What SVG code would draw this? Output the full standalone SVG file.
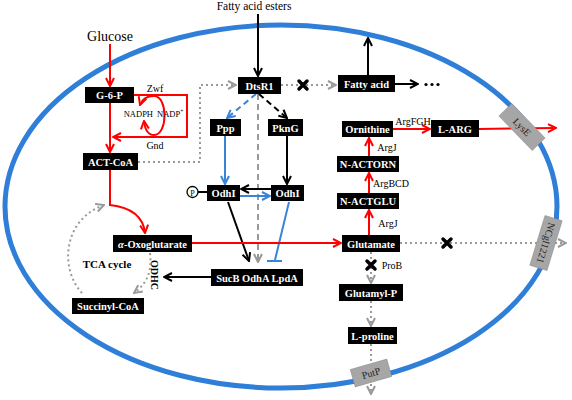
<svg xmlns="http://www.w3.org/2000/svg" width="572" height="400" viewBox="0 0 572 400">
<defs>
<style>
.box{fill:#000}
.bt{font-family:"Liberation Serif","Times New Roman",serif;font-weight:bold;font-size:10.5px;fill:#fff;text-anchor:middle}
.lbl{font-family:"Liberation Serif","Times New Roman",serif;font-size:10px;fill:#000;text-anchor:middle}
.red{stroke:#f00;stroke-width:2;fill:none}
.blk{stroke:#000;stroke-width:2;fill:none}
.blu{stroke:#3a84d8;stroke-width:2;fill:none}
.dot{stroke:#999;stroke-width:2;fill:none;stroke-dasharray:2 3}
.dash{stroke:#999;stroke-width:2;fill:none;stroke-dasharray:6 4}
.x{stroke:#000;stroke-width:3.5;stroke-linecap:round}
.tr{fill:#a6a6a6;stroke:#888;stroke-width:0.5}
.trt{font-family:"Liberation Serif","Times New Roman",serif;font-size:10px;fill:#222;text-anchor:middle}
</style>
<marker id="ar" viewBox="0 0 10 10" refX="9" refY="5" markerWidth="10" markerHeight="10" markerUnits="userSpaceOnUse" orient="auto"><path d="M1,1 L9,5 L1,9" fill="none" stroke="#f00" stroke-width="2"/></marker>
<marker id="ak" viewBox="0 0 10 10" refX="9" refY="5" markerWidth="10" markerHeight="10" markerUnits="userSpaceOnUse" orient="auto"><path d="M1,1 L9,5 L1,9" fill="none" stroke="#000" stroke-width="2"/></marker>
<marker id="ab" viewBox="0 0 10 10" refX="9" refY="5" markerWidth="10" markerHeight="10" markerUnits="userSpaceOnUse" orient="auto"><path d="M1,1 L9,5 L1,9" fill="none" stroke="#3a84d8" stroke-width="2"/></marker>
<marker id="ag" viewBox="0 0 10 10" refX="9" refY="5" markerWidth="10" markerHeight="10" markerUnits="userSpaceOnUse" orient="auto"><path d="M1,1 L9,5 L1,9" fill="none" stroke="#999" stroke-width="2"/></marker>
</defs>
<rect width="572" height="400" fill="#fff"/>
<ellipse id="cell" cx="281" cy="206.5" rx="276" ry="181.5" fill="none" stroke="#2f7ed8" stroke-width="5"/>

<g id="connectors">
<path class="blk" d="M258,14 L258,76" marker-end="url(#ak)"/>
<path class="red" d="M110,44 L110,86" marker-end="url(#ar)"/>
<path class="red" d="M110,103 L110,152" marker-end="url(#ar)"/>
<path class="red" d="M134,95 L187,95 L187,137 L113,137" marker-end="url(#ar)"/>
<path class="red" d="M154,96 C147,96 142,99 140,105" marker-end="url(#ar)"/>
<path class="red" d="M154,96 C168,96 168,135 154,135 C148,135 145,130 144,121" marker-end="url(#ar)"/>
<path class="red" d="M110,170 L110,205 C128,207 143,215 145,233" marker-end="url(#ar)"/>
<path class="dot" d="M138,162 L200,162 L200,85 L236,85" marker-end="url(#ag)"/>
<path class="dot" d="M82,293 C60,270 62,220 104,205" marker-end="url(#ag)"/>
<path class="dot" d="M150,253 C152,270 148,283 134,293" marker-end="url(#ag)"/>
<path class="blk" d="M211,277 L164,277" marker-end="url(#ak)"/>
<path class="dash" d="M258,94 L258,262" marker-end="url(#ag)"/>
<path class="blu" d="M256,94 L227,118" stroke-dasharray="6 4" marker-end="url(#ab)"/>
<path class="blk" d="M259,94 L287,118" stroke-dasharray="6 4" marker-end="url(#ak)"/>
<path class="blu" d="M225,136 L225,184" marker-end="url(#ab)"/>
<path class="blk" d="M287,136 L287,184" marker-end="url(#ak)"/>
<path class="blk" d="M271,189 L241,189" marker-end="url(#ak)"/>
<path class="blu" d="M240,196 L270,196" marker-end="url(#ab)"/>
<path class="blk" d="M198,192 L207,192"/>
<path class="blk" d="M228,202 L249,261" marker-end="url(#ak)"/>
<path class="blu" d="M289,202 L275,260"/>
<path class="blu" d="M267,261 L282,261"/>
<path class="red" d="M192,243 L341,243" marker-end="url(#ar)"/>
<path class="dot" d="M281,85 L336,85" marker-end="url(#ag)"/>
<path class="blk" d="M368,75 L368,38" marker-end="url(#ak)"/>
<path class="blk" d="M395,84 L418,84" marker-end="url(#ak)"/>
<path class="red" d="M369,235 L369,210" marker-end="url(#ar)"/>
<path class="red" d="M369,193 L369,173" marker-end="url(#ar)"/>
<path class="red" d="M369,156 L369,138" marker-end="url(#ar)"/>
<path class="red" d="M393,129 L430,129" marker-end="url(#ar)"/>
<path class="red" d="M479,129 L556,128" marker-end="url(#ar)"/>
<path class="dot" d="M400,243 L566,243" marker-end="url(#ag)"/>
<path class="dot" d="M371,252 L371,283" marker-end="url(#ag)"/>
<path class="dot" d="M371,301 L371,326" marker-end="url(#ag)"/>
<path class="dot" d="M371,344 L371,394" marker-end="url(#ag)"/>
</g>

<g id="marks">
<path class="x" d="M299,81 L307,89 M307,81 L299,89"/>
<path class="x" d="M443,239 L451,247 M451,239 L443,247"/>
<path class="x" d="M367,261 L375,269 M375,261 L367,269"/>
<circle cx="426" cy="84.5" r="1.6"/><circle cx="432" cy="84.5" r="1.6"/><circle cx="438" cy="84.5" r="1.6"/>
</g>

<text class="lbl" x="254" y="10" style="font-size:11.5px">Fatty acid esters</text>
<text class="lbl" x="110" y="41" style="font-size:14px">Glucose</text>
<text class="lbl" x="155" y="92">Zwf</text>
<text class="lbl" x="153" y="117" style="font-size:8.5px;text-anchor:end">NADPH</text>
<text class="lbl" x="157" y="117" style="font-size:8.5px;text-anchor:start">NADP<tspan style="font-size:5.5px" dy="-4">+</tspan></text>
<text class="lbl" x="155" y="149">Gnd</text>
<text class="lbl" x="107" y="268" style="font-weight:bold;font-size:11px">TCA cycle</text>
<text class="lbl" x="0" y="0" transform="translate(151,275) rotate(90)" style="font-weight:bold;font-size:10px">ODHC</text>
<text class="lbl" x="413" y="125">ArgFGH</text>
<text class="lbl" x="387" y="151">ArgJ</text>
<text class="lbl" x="391" y="187">ArgBCD</text>
<text class="lbl" x="388" y="227">ArgJ</text>
<text class="lbl" x="392" y="269">ProB</text>

<g id="P"><circle cx="192.5" cy="192" r="5.5" fill="#fff" stroke="#000" stroke-width="1.3"/><text class="lbl" x="192.5" y="195.5" style="font-size:8px">P</text></g>

<g id="G6P"><rect class="box" x="85" y="87" width="49" height="16"/><text class="bt" x="109.5" y="99">G-6-P</text></g>
<g id="ACTCoA"><rect class="box" x="83" y="153" width="55" height="17"/><text class="bt" x="110.5" y="165.5">ACT-CoA</text></g>
<g id="DtsR1"><rect class="box" x="238" y="77" width="43" height="17"/><text class="bt" x="259.5" y="89.5">DtsR1</text></g>
<g id="Ppp"><rect class="box" x="210" y="119" width="31" height="17"/><text class="bt" x="225.5" y="131.5">Ppp</text></g>
<g id="PknG"><rect class="box" x="268" y="119" width="35" height="17"/><text class="bt" x="285.5" y="131.5">PknG</text></g>
<g id="OdhIp"><rect class="box" x="207" y="185" width="33" height="16"/><text class="bt" x="223.5" y="197">OdhI</text></g>
<g id="OdhI"><rect class="box" x="271" y="185" width="33" height="16"/><text class="bt" x="287.5" y="197">OdhI</text></g>
<g id="SucB"><rect class="box" x="211" y="269" width="92" height="17"/><text class="bt" x="257" y="281.5">SucB OdhA  LpdA</text></g>
<g id="aOxo"><rect class="box" x="113" y="235" width="79" height="17"/><text class="bt" x="152.5" y="247.5"><tspan font-style="italic">α</tspan>-Oxoglutarate</text></g>
<g id="SuccCoA"><rect class="box" x="72" y="298" width="72" height="16"/><text class="bt" x="108" y="310">Succinyl-CoA</text></g>
<g id="FattyAcid"><rect class="box" x="338" y="75" width="57" height="17"/><text class="bt" x="366.5" y="87.5">Fatty acid</text></g>
<g id="Ornithine"><rect class="box" x="342" y="121" width="51" height="16"/><text class="bt" x="367.5" y="133">Ornithine</text></g>
<g id="LARG"><rect class="box" x="431" y="120" width="48" height="17"/><text class="bt" x="455" y="132.5">L-ARG</text></g>
<g id="NACTORN"><rect class="box" x="337" y="156" width="62" height="16"/><text class="bt" x="368" y="168">N-ACTORN</text></g>
<g id="NACTGLU"><rect class="box" x="337" y="193" width="62" height="16"/><text class="bt" x="368" y="205">N-ACTGLU</text></g>
<g id="Glutamate"><rect class="box" x="342" y="235" width="58" height="17"/><text class="bt" x="371" y="247.5">Glutamate</text></g>
<g id="GlutamylP"><rect class="box" x="339" y="284" width="64" height="17"/><text class="bt" x="371" y="296.5">Glutamyl-P</text></g>
<g id="Lproline"><rect class="box" x="348" y="327" width="49" height="17"/><text class="bt" x="372.5" y="339.5">L-proline</text></g>

<g id="LysE" transform="translate(522,127) rotate(46)"><rect class="tr" x="-24" y="-9" width="48" height="18"/><text class="trt" x="0" y="3.5">LysE</text></g>
<g id="NCgl1221" transform="translate(546,243) rotate(107)"><rect class="tr" x="-26" y="-9" width="52" height="18"/><text class="trt" x="0" y="3.5">NCgl1221</text></g>
<g id="PutP" transform="translate(371,373) rotate(-16)"><rect class="tr" x="-19" y="-9" width="38" height="18"/><text class="trt" x="0" y="3.5">PutP</text></g>
</svg>
